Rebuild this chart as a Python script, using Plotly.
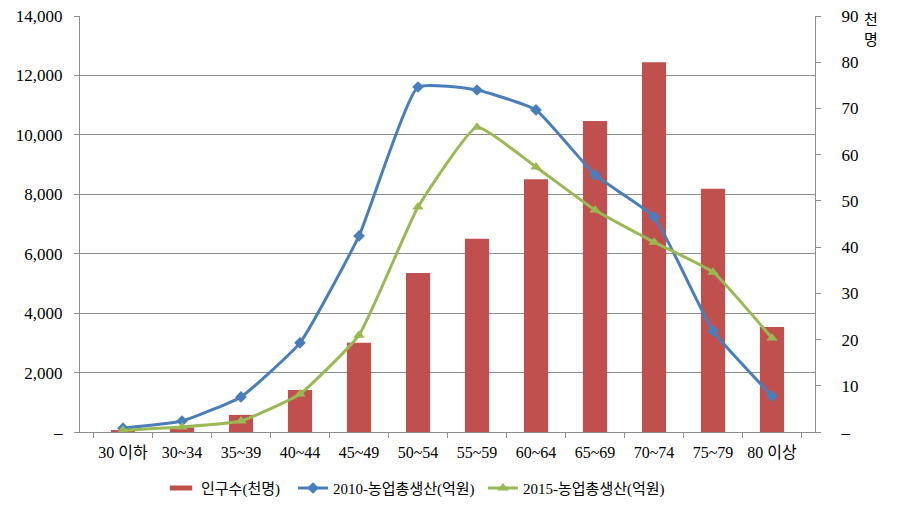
import plotly.graph_objects as go

categories = ["30 이하", "30~34", "35~39", "40~44", "45~49", "50~54",
              "55~59", "60~64", "65~69", "70~74", "75~79", "80 이상"]
population = [0.3, 1.0, 3.7, 9.1, 19.3, 34.4, 41.8, 54.7, 67.3, 80.0, 52.6, 22.7]
prod_2010 = [130, 370, 1180, 3000, 6600, 11610, 11510, 10840, 8650, 7240, 3400, 1210]
prod_2015 = [60, 170, 370, 1280, 3260, 7570, 10260, 8920, 7470, 6390, 5380, 3160]

left_ticks = [0, 2000, 4000, 6000, 8000, 10000, 12000, 14000]
left_text = ["–", "2,000", "4,000", "6,000", "8,000", "10,000", "12,000", "14,000"]
right_ticks = [0, 10, 20, 30, 40, 50, 60, 70, 80, 90]
right_text = ["–", "10", "20", "30", "40", "50", "60", "70", "80", "90"]

FONT = "Liberation Serif, Noto Sans CJK KR"
GRID = "#8c8c8c"
NB = "\u00a0\u00a0\u00a0\u00a0"

fig = go.Figure()
fig.add_trace(go.Bar(x=categories, y=population, name="인구수(천명)",
                     marker=dict(color="#C0504D", line=dict(width=0)),
                     yaxis="y", showlegend=False))
# legend-only entry drawn as a wide flat rectangle like the original
fig.add_trace(go.Scatter(x=[None], y=[None], name="인구수(천명)", mode="markers",
                         yaxis="y", legend="legend",
                         marker=dict(symbol="line-ew", size=21, color="#C0504D",
                                     line=dict(width=7, color="#C0504D"))))
fig.add_trace(go.Scatter(x=categories, y=prod_2010, name="2010-농업총생산(억원)",
                         mode="lines+markers", yaxis="y2", legend="legend2",
                         line=dict(color="#4A7EBB", width=3, shape="spline", smoothing=0.4),
                         marker=dict(symbol="diamond", size=9, color="#4A7EBB")))
fig.add_trace(go.Scatter(x=categories, y=prod_2015, name="2015-농업총생산(억원)",
                         mode="lines+markers", yaxis="y2", legend="legend3",
                         line=dict(color="#98B954", width=3, shape="spline", smoothing=0.4),
                         marker=dict(symbol="triangle-up", size=10, color="#98B954")))

def leg(xpx):
    return dict(orientation="h", x=xpx / 901, xanchor="left", xref="container",
                y=0.037, yanchor="middle", yref="container",
                font=dict(size=15), itemwidth=30, bgcolor="rgba(0,0,0,0)")

fig.update_layout(
    width=901, height=507,
    margin=dict(l=80, r=86, t=16, b=75, autoexpand=False),
    paper_bgcolor="white", plot_bgcolor="white",
    font=dict(family=FONT, size=16, color="black"),
    bargap=0.59,
    showlegend=True,
    legend=leg(161), legend2=leg(293), legend3=leg(483),
    xaxis=dict(type="category", tickson="boundaries", ticks="outside", ticklen=5,
               tickcolor=GRID, showline=True, linecolor=GRID, linewidth=1,
               showgrid=False, tickfont=dict(size=16), automargin=False,
               tickangle=0, ticklabelstandoff=6),
    yaxis=dict(side="right", range=[0, 90], tickvals=right_ticks,
               ticktext=[NB + t for t in right_text],
               showgrid=False, showline=True, linecolor=GRID, ticks="outside",
               ticklen=5, tickcolor=GRID, zeroline=False, tickfont=dict(size=17),
               automargin=False),
    yaxis2=dict(side="left", overlaying="y", range=[0, 14000], tickvals=left_ticks,
                ticktext=left_text, showgrid=True, gridcolor=GRID, gridwidth=1,
                showline=True, linecolor=GRID, ticks="outside", ticklen=5,
                tickcolor=GRID, zeroline=False, tickfont=dict(size=17),
                automargin=False, ticklabelstandoff=8),
    annotations=[dict(text="천<br>명", xref="paper", yref="paper", x=1.0, y=1.0,
                      xshift=47, yshift=6, xanchor="left", yanchor="top", showarrow=False,
                      font=dict(size=15, family=FONT), align="center")],
)

fig.write_html("out.html")
